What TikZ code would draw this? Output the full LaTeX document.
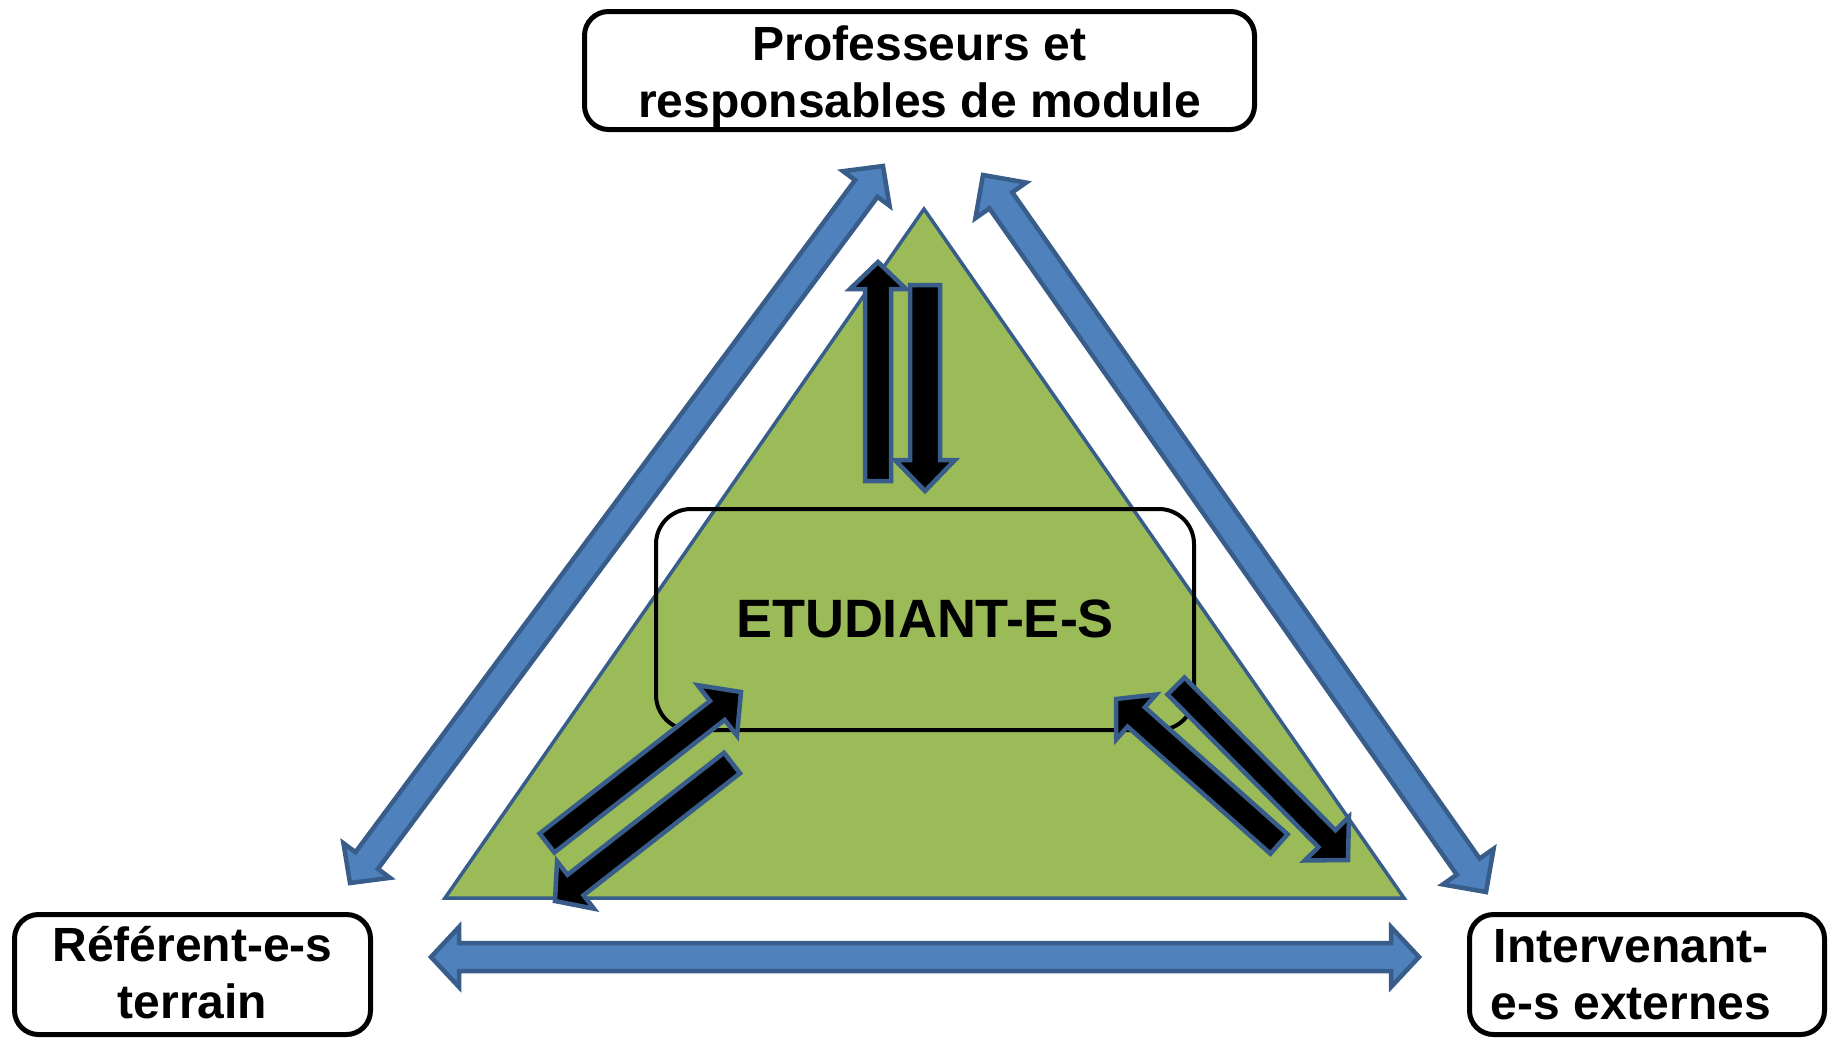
\documentclass[tikz,border=0pt]{standalone}
\usepackage{fontspec}
\setmainfont{Liberation Sans}
\usetikzlibrary{calc}
\definecolor{bfill}{HTML}{4F81BD}
\definecolor{bline}{HTML}{385D8A}
\definecolor{gfill}{HTML}{9BBB59}
\tikzset{
  bluearrow/.style={fill=bfill, draw=bline, line width=4.5pt, line join=miter},
  blackarrow/.style={fill=black, draw=bline, line width=4.5pt, line join=miter},
  tri/.style={fill=gfill, draw=bline, line width=3.5pt, line join=miter},
  lbox/.style={draw=black, line width=5pt, rounded corners=24pt, fill=white, inner sep=0pt},
  ltext/.style={align=center, inner sep=0pt, font=\fontsize{48}{57}\selectfont\bfseries},
  etubox/.style={draw=black, line width=4pt, rounded corners=35pt, inner sep=0pt},
  etutextstyle/.style={inner sep=0pt, font=\fontsize{54}{64}\selectfont\bfseries},
}
% single-headed block arrow: style, tail, tip, shaft half width, head half width, head length
\newcommand{\blkarrow}[6]{%
  \coordinate (ta) at #2; \coordinate (tb) at #3;
  \coordinate (th) at ($(tb)!#6!(ta)$);
  \draw[#1] ($(ta)!#4!90:(tb)$) -- ($(th)!#4!-90:(ta)$) -- ($(th)!#5!-90:(ta)$) -- (tb)
    -- ($(th)!#5!90:(ta)$) -- ($(th)!#4!90:(ta)$) -- ($(ta)!#4!-90:(tb)$) -- cycle;
}
% double-headed block arrow: style, tip A, tip B, shaft half width, head half width, head length
\newcommand{\dblarrow}[6]{%
  \coordinate (ta) at #2; \coordinate (tb) at #3;
  \coordinate (ha) at ($(ta)!#6!(tb)$); \coordinate (hb) at ($(tb)!#6!(ta)$);
  \draw[#1] (ta) -- ($(ha)!#5!90:(tb)$) -- ($(ha)!#4!90:(tb)$) -- ($(hb)!#4!-90:(ta)$)
    -- ($(hb)!#5!-90:(ta)$) -- (tb) -- ($(hb)!#5!90:(ta)$) -- ($(hb)!#4!90:(ta)$)
    -- ($(ha)!#4!-90:(tb)$) -- ($(ha)!#5!-90:(tb)$) -- cycle;
}
\begin{document}
\begin{tikzpicture}[x=1pt,y=-1pt]
\useasboundingbox (0,0) rectangle (1835,1045);
\fill[white] (0,0) rectangle (1835,1045);

% green triangle
\coordinate (apex) at (924,209);
\coordinate (bl) at (445,898);
\coordinate (br) at (1404,898);
\draw[tri] (apex) -- (bl) -- (br) -- cycle;

% central box
\node[etubox, minimum width=538pt, minimum height=221pt] (etu) at (925,619.5) {};
\node[etutextstyle] (etutext) at (925,619) {ETUDIANT-E-S};

% label boxes
\node[lbox, minimum width=670pt, minimum height=118pt] (prof) at (919.5,70.5) {};
\node[ltext] (proftext) at (919.5,77) {Professeurs et\\responsables de module};
\node[lbox, minimum width=356pt, minimum height=120pt] (ref) at (192.5,974.5) {};
\node[ltext] (reftext) at (192.5,973) {Référent-e-s\\terrain};
\node[lbox, minimum width=355pt, minimum height=120pt] (int) at (1647,974.5) {};
\node[ltext] (inttext) at (1631,975) {Intervenant-\\e-s externes};

% blue double arrows between the three partners
\coordinate (refT) at (350,883);
\coordinate (profL) at (883,166);
\coordinate (profR) at (983,175);
\coordinate (intT) at (1486,892);
\coordinate (refR) at (431,957);
\coordinate (intL) at (1419,957);
\dblarrow{bluearrow}{(refT)}{(profL)}{14pt}{29pt}{28pt}
\dblarrow{bluearrow}{(profR)}{(intT)}{14pt}{31pt}{31pt}
\dblarrow{bluearrow}{(refR)}{(intL)}{14pt}{30pt}{28pt}

% black arrows inside the triangle
\blkarrow{blackarrow}{(878,481)}{(878,262)}{13pt}{28pt}{27pt}
\blkarrow{blackarrow}{(925,285)}{(925,491)}{15pt}{30pt}{31pt}
\blkarrow{blackarrow}{(547,843)}{(741,692)}{12pt}{32pt}{30pt}
\blkarrow{blackarrow}{(732,763)}{(555,901)}{13pt}{30pt}{26pt}
\blkarrow{blackarrow}{(1279,844)}{(1116,699)}{13pt}{30pt}{27pt}
\blkarrow{blackarrow}{(1176,686)}{(1348,860)}{12pt}{31pt}{30pt}
\end{tikzpicture}
\end{document}
